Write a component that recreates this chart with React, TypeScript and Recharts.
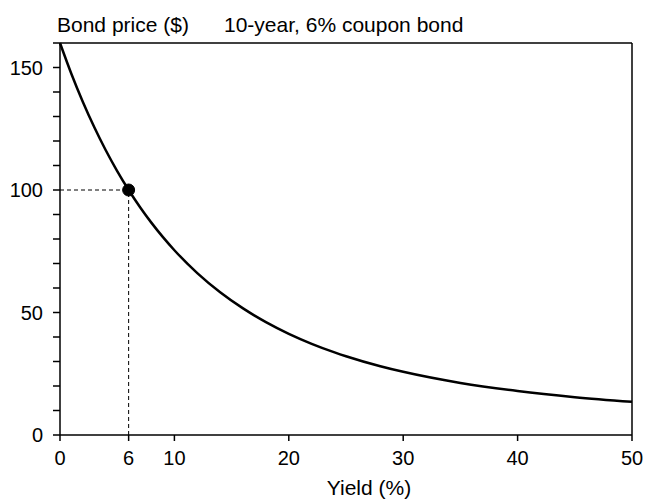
import React from 'react';
import { LineChart, Line, XAxis, YAxis, ReferenceLine, ReferenceDot, Label } from 'recharts';

const yields = [0, 1, 2, 3, 4, 5, 6, 7, 8, 9, 10, 12, 14, 16, 18, 20, 22, 24, 25, 28, 30, 35, 40, 45, 50];
const prices = [160, 147.36, 135.93, 125.59, 116.22, 107.72, 100, 92.98, 86.58, 80.75, 75.42, 66.1, 58.27, 51.67, 46.07, 41.3, 37.23, 33.73, 32.16, 28.08, 25.8, 21.26, 17.94, 15.44, 13.53];
const xTicks = [0, 6, 10, 20, 30, 40, 50];
const yTicks = [0, 10, 20, 30, 40, 50, 60, 70, 80, 90, 100, 110, 120, 130, 140, 150, 160];
const yLabelled = [0, 50, 100, 150];
const highlightYield = 6;
const highlightPrice = 100;
const yMax = 160;
const xMax = 50;

const data = yields.map((y, i) => ({ y, p: prices[i] }));

const FONT = 'Liberation Sans, Arial, sans-serif';
const FS = 20;
const TFS = 21;

export default function App() {
  return (
    <div style={{ position: 'absolute', left: 0, top: 0, background: '#fff' }}>
      <LineChart width={647} height={501} data={data} margin={{ top: 43, right: 15, bottom: 36, left: 0 }}>
        <XAxis
          dataKey="y"
          type="number"
          domain={[0, xMax]}
          ticks={xTicks}
          interval={0}
          tickSize={6}
          tickMargin={10}
          height={30}
          stroke="#000"
          strokeWidth={1.5}
          tick={{ fill: '#000', fontSize: FS, fontFamily: FONT }}
        >
          <Label
            content={() => (
              <text x={369} y={495} textAnchor="middle" fontSize={TFS} fontFamily={FONT} fill="#000">Yield (%)</text>
            )}
          />
        </XAxis>
        <YAxis
          type="number"
          domain={[0, yMax]}
          ticks={yTicks}
          interval={0}
          width={60}
          tickSize={7}
          tickMargin={10}
          stroke="#000"
          strokeWidth={1.5}
          tickFormatter={(v: number) => (yLabelled.includes(v) ? String(v) : '')}
          tick={{ fill: '#000', fontSize: FS, fontFamily: FONT }}
        >
          <Label
            content={() => (
              <g>
                <text x={57} y={32} fontSize={TFS} fontFamily={FONT} fill="#000">Bond price ($)</text>
                <text x={224} y={32} fontSize={TFS} fontFamily={FONT} fill="#000">10-year, 6% coupon bond</text>
              </g>
            )}
          />
        </YAxis>
        <ReferenceLine y={yMax} stroke="#000" strokeWidth={1.5} />
        <ReferenceLine x={xMax} stroke="#000" strokeWidth={1.5} />
        <ReferenceLine
          segment={[{ x: 0, y: highlightPrice }, { x: highlightYield, y: highlightPrice }]}
          stroke="#000"
          strokeWidth={1}
          strokeDasharray="4 3"
        />
        <ReferenceLine
          segment={[{ x: highlightYield, y: 0 }, { x: highlightYield, y: highlightPrice }]}
          stroke="#000"
          strokeWidth={1}
          strokeDasharray="4 3"
        />
        <Line
          type="monotone"
          dataKey="p"
          stroke="#000"
          strokeWidth={2.5}
          dot={false}
          activeDot={false}
          isAnimationActive={false}
        />
        <ReferenceDot x={highlightYield} y={highlightPrice} r={6} fill="#000" stroke="#000" />
      </LineChart>
    </div>
  );
}
